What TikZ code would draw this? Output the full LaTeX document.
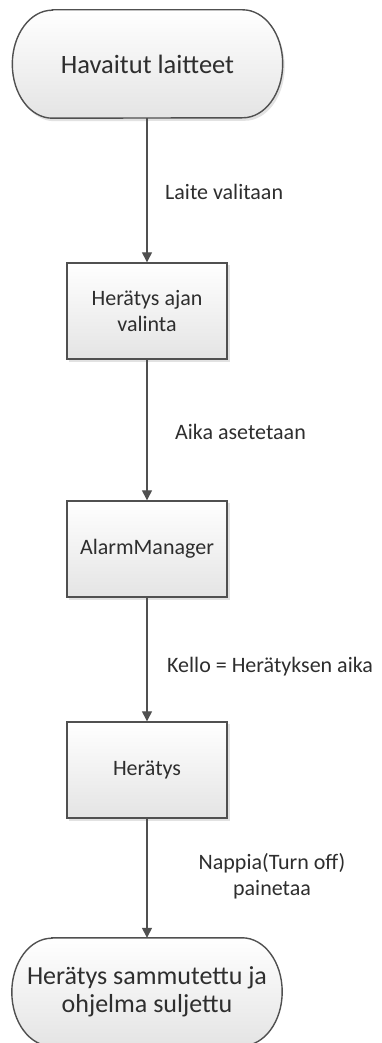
\documentclass[tikz,border=0pt]{standalone}
\usepackage{fontspec}
\setmainfont{Carlito}
\usetikzlibrary{arrows.meta,backgrounds}
\definecolor{edge}{HTML}{505050}
\definecolor{txt}{HTML}{2E2E2E}
\definecolor{fillbot}{HTML}{E4E4E4}
\definecolor{shadowc}{HTML}{E2E2E2}
\tikzset{
  stepbox/.style={draw=edge, line width=1.4pt, top color=white, bottom color=fillbot,
    minimum width=160pt, minimum height=96pt, align=center, text=txt,
    font=\fontsize{22}{26}\selectfont, inner sep=0pt},
  termnode/.style={minimum width=270pt, minimum height=108pt, align=center, text=txt,
    font=\fontsize{26.5}{28}\selectfont, inner sep=0pt},
  termline/.style={draw=edge, line width=1.4pt, top color=white, bottom color=fillbot},
  flow/.style={draw=edge, line width=1.3pt, -{Triangle[length=10pt,width=10pt]}},
  lab/.style={text=txt, font=\fontsize{22}{26}\selectfont, inner sep=0pt, align=center}
}
\begin{document}
\begin{tikzpicture}[x=1pt,y=1pt]
\useasboundingbox (0,0) rectangle (382,-1043);
\clip (0,0) rectangle (382,-1043);

% terminators (nodes for text)
\node[termnode] (t1) at (147.5,-64) {Havaitut laitteet};
\node[termnode, font=\fontsize{26}{28}\selectfont] (t2) at (147,-992) {Herätys sammutettu ja\\ohjelma suljettu};

\begin{pgfonlayer}{background}
  \fill[white] (0,0) rectangle (382,-1043);
  % shadow
  \fill[shadowc] ([xshift=42,yshift=-3]t1.north west) -- ([xshift=-38,yshift=-3]t1.north east)
     arc[start angle=90,end angle=-90,x radius=40,y radius=54] -- ([xshift=42,yshift=-3]t1.south west)
     arc[start angle=270,end angle=90,x radius=40,y radius=54] -- cycle;
  \path[termline] ([xshift=40]t1.north west) -- ([xshift=-40]t1.north east)
     arc[start angle=90,end angle=-90,x radius=40,y radius=54] -- ([xshift=40]t1.south west)
     arc[start angle=270,end angle=90,x radius=40,y radius=54] -- cycle;
  \path[termline] ([xshift=40]t2.north west) -- ([xshift=-40]t2.north east)
     arc[start angle=90,end angle=-90,x radius=40,y radius=54] -- ([xshift=40]t2.south west)
     arc[start angle=270,end angle=90,x radius=40,y radius=54] -- cycle;
\end{pgfonlayer}

% process boxes
\fill[shadowc] (69,-265) rectangle (229.5,-361.5);
\fill[shadowc] (69,-503) rectangle (229.5,-599.5);
\fill[shadowc] (69,-724) rectangle (229.5,-820.5);
\node[stepbox] (b1) at (147,-311) {Herätys ajan\\valinta};
\node[stepbox] (b2) at (147,-549) {AlarmManager};
\node[stepbox] (b3) at (147,-770) {Herätys};

% connectors
\draw[flow] (t1.south -| b1.north) -- (b1.north);
\draw[flow] (b1.south) -- (b2.north);
\draw[flow] (b2.south) -- (b3.north);
\draw[flow] (b3.south) -- (t2.north -| b3.south);

% labels
\node[lab, anchor=west] (l1) at (165,-192) {Laite valitaan};
\node[lab, anchor=west] (l2) at (175,-432) {Aika asetetaan};
\node[lab, anchor=west] (l3) at (167,-667) {Kello = Herätyksen aika};
\node[lab] (l4) at (272,-876) {Nappia(Turn off)\\painetaa};
\end{tikzpicture}
\end{document}
